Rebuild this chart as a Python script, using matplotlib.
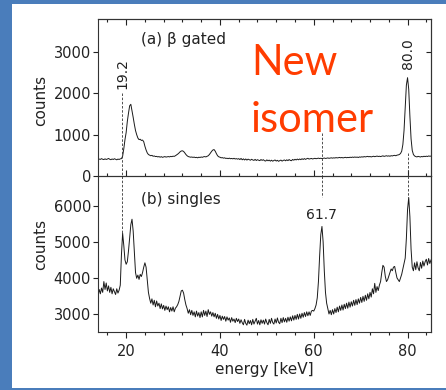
import numpy as np
import matplotlib
matplotlib.use("Agg")
import matplotlib.pyplot as plt
from matplotlib.patches import Rectangle
from matplotlib.ticker import MultipleLocator, FixedLocator

# ---- spectra (counts per 0.25 keV channel, 14 .. 85 keV) ----
energy = np.arange(14.0, 85.001, 0.25)

beta_gated = [
    395, 410, 402, 420, 405, 398, 415, 400, 410, 425, 405, 395, 412, 400, 418, 405, 392, 410, 400, 415,
    420, 480, 660, 880, 1050, 1320, 1520, 1700, 1735, 1580, 1420, 1250, 1100, 1000, 920, 880, 890, 860, 870, 830,
    720, 630, 560, 520, 505, 490, 500, 478, 485, 470, 475, 462, 470, 455, 468, 452, 462, 470, 458, 465,
    470, 462, 475, 468, 480, 475, 490, 510, 530, 555, 585, 605, 610, 595, 560, 520, 490, 470, 462, 455,
    460, 450, 458, 445, 452, 440, 455, 448, 460, 452, 465, 470, 462, 475, 490, 520, 560, 600, 630, 640,
    600, 540, 490, 465, 455, 440, 445, 432, 440, 425, 430, 420, 432, 418, 425, 415, 428, 412, 420, 408,
    420, 398, 425, 392, 415, 388, 412, 385, 408, 395, 382, 405, 388, 378, 402, 375, 395, 382, 372, 398,
    378, 395, 370, 362, 390, 368, 385, 360, 382, 358, 375, 388, 362, 380, 355, 372, 385, 360, 378, 388,
    368, 392, 372, 398, 378, 370, 400, 382, 405, 388, 410, 392, 412, 395, 418, 400, 422, 402, 418, 428,
    410, 418, 425, 412, 420, 428, 418, 425, 432, 422, 430, 420, 428, 435, 425, 430, 438, 428, 435, 440,
    432, 440, 435, 445, 438, 442, 450, 440, 448, 438, 445, 452, 442, 450, 445, 455, 448, 458, 450, 460,
    452, 458, 448, 462, 455, 465, 458, 470, 462, 468, 475, 465, 472, 462, 470, 478, 468, 475, 482, 472,
    478, 470, 480, 488, 475, 482, 490, 480, 488, 478, 492, 485, 495, 500, 490, 505, 510, 520, 545, 600,
    760, 1100, 1650, 2200, 2380, 2100, 1450, 900, 620, 520, 485, 470, 462, 475, 468, 460, 472, 465, 478, 470,
    480, 472, 485, 478, 482,
]

singles = [
    3520, 3680, 3560, 3720, 3600, 3900, 3680, 3860, 3640, 3780, 3600, 3740, 3560, 3700, 3620, 3540, 3700, 3580, 3660, 3800,
    4650, 5240, 4900, 4500, 4380, 4450, 4750, 5100, 5480, 5630, 5300, 4700, 4150, 3990, 4080, 3960, 4100, 4040, 4150, 4300,
    4420, 4300, 3950, 3600, 3430, 3300, 3420, 3250, 3380, 3200, 3360, 3220, 3300, 3150, 3280, 3140, 3240, 3100, 3220, 3120,
    3200, 3060, 3180, 3080, 3200, 3060, 3160, 3200, 3260, 3350, 3500, 3640, 3660, 3580, 3400, 3250, 3150, 3020, 3120, 2980,
    3100, 2960, 3060, 2920, 3080, 2940, 3040, 2900, 3060, 2920, 3100, 2960, 3080, 2930, 3120, 2990, 3060, 2940, 3040, 2920,
    3020, 2880, 2990, 2860, 2960, 2820, 2940, 2850, 2930, 2800, 2920, 2830, 2890, 2770, 2900, 2800, 2860, 2760, 2880, 2790,
    2860, 2740, 2840, 2760, 2700, 2850, 2740, 2690, 2830, 2730, 2820, 2700, 2850, 2720, 2800, 2880, 2720, 2820, 2700, 2840,
    2740, 2830, 2720, 2860, 2760, 2700, 2850, 2740, 2880, 2760, 2720, 2860, 2750, 2890, 2770, 2730, 2880, 2760, 2900, 2780,
    2880, 2770, 2910, 2800, 2920, 2810, 2950, 2830, 2960, 2850, 2990, 2860, 3000, 2880, 3020, 2910, 3040, 2930, 3060, 2950,
    3060, 2960, 3080, 3100, 3080, 3150, 3250, 3450, 3900, 4600, 5200, 5430, 5000, 4200, 3600, 3300, 3150, 3000, 3100, 2980,
    3120, 3000, 3150, 3040, 3190, 3060, 3220, 3100, 3250, 3110, 3270, 3150, 3300, 3160, 3330, 3190, 3340, 3220, 3380, 3240,
    3400, 3260, 3420, 3300, 3460, 3320, 3490, 3350, 3520, 3380, 3560, 3420, 3600, 3470, 3700, 3560, 3850, 3600, 3760, 3650,
    3800, 3900, 4150, 4350, 4300, 4050, 3900, 3950, 4050, 4150, 4250, 4200, 4300, 4320, 4150, 4000, 3950, 3900, 4000, 4100,
    4250, 4400, 4550, 5100, 5900, 6230, 5700, 4800, 4300, 4200, 4420, 4230, 4450, 4280, 4200, 4430, 4270, 4470, 4330, 4450,
    4520, 4360, 4540, 4400, 4500,
]

# peak markers: energy, dashed span in (a), dashed span in (b)
peak_energies = [19.2, 61.7, 80.0]
peak_labels = ["19.2", "61.7", "80.0"]
dash_a = [(2000, 0), (1050, 0), (550, 0)]
dash_b = [(6830, 5250), (6830, 6250), (6830, 6230)]

yticks_a = [0, 1000, 2000, 3000]
yticks_b = [3000, 4000, 5000, 6000]

FONT = ["DejaVu Sans"]
INK = "#222222"
plt.rcParams["font.family"] = FONT
plt.rcParams["text.color"] = INK
plt.rcParams["axes.labelcolor"] = INK
plt.rcParams["xtick.color"] = INK
plt.rcParams["ytick.color"] = INK

W, H = 446, 390
fig = plt.figure(figsize=(W / 100, H / 100), dpi=100, facecolor="#4a7dbb")
fig.patches.append(Rectangle((12 / W, 2 / H), 1 - 12 / W, 384 / H,
                             transform=fig.transFigure, facecolor="white",
                             edgecolor="none", zorder=-10))

left, right = 98 / W, 431 / W
ax_a = fig.add_axes([left, 1 - 176 / H, right - left, 157 / H])
ax_b = fig.add_axes([left, 1 - 332 / H, right - left, 156 / H], sharex=ax_a)

for ax in (ax_a, ax_b):
    for s in ax.spines.values():
        s.set_linewidth(0.8)
        s.set_color("#333333")
    ax.set_facecolor("none")

ax_a.plot(energy, beta_gated, color="#1a1a1a", lw=0.7)
ax_b.plot(energy, singles, color="#1a1a1a", lw=0.7)

ax_a.set_xlim(14, 85)
ax_a.set_ylim(0, 3800)
ax_b.set_ylim(2500, 6830)

dash_kw = dict(color="#333333", lw=0.6, ls=(0, (3, 2)))
for e, (ya0, ya1), (yb0, yb1) in zip(peak_energies, dash_a, dash_b):
    ax_a.plot([e, e], [ya0, ya1], **dash_kw)
    ax_b.plot([e, e], [yb0, yb1], **dash_kw)

# peak labels
ax_a.text(peak_energies[0], 2100, peak_labels[0], rotation=90, ha="center",
          va="bottom", fontsize=10)
ax_a.text(peak_energies[2], 2600, peak_labels[2], rotation=90, ha="center",
          va="bottom", fontsize=10)
ax_b.text(peak_energies[1], 5750, peak_labels[1], ha="center", va="center",
          fontsize=10)

ax_a.text(23.2, 3300, "(a) β gated", ha="left", va="center", fontsize=11)
ax_b.text(23.2, 6180, "(b) singles", ha="left", va="center", fontsize=11)

ax_a.text(46.6, 2434, "New", color="#ff3c00", fontsize=30, family=["Lato", "DejaVu Sans"],
          ha="left", va="baseline")
ax_a.text(46.6, 1060, "isomer", color="#ff3c00", fontsize=30, family=["Lato", "DejaVu Sans"],
          ha="left", va="baseline")

# ticks
for ax, yt in ((ax_a, yticks_a), (ax_b, yticks_b)):
    ax.yaxis.set_major_locator(FixedLocator(yt))
    ax.tick_params(axis="y", which="major", direction="out", length=3.5, width=0.8,
                   pad=1.5, labelsize=10.5)
    sec = ax.secondary_yaxis("right")
    sec.yaxis.set_major_locator(FixedLocator(yt))
    sec.tick_params(direction="in", length=3.5, width=0.8, labelright=False)
    sec.spines["right"].set_linewidth(0.8)
    sec.spines["right"].set_color("#333333")

ax_a.xaxis.set_major_locator(MultipleLocator(20))
ax_a.xaxis.set_minor_locator(MultipleLocator(4))
ax_a.tick_params(axis="x", which="both", direction="in", labelbottom=False, width=0.8)
ax_a.tick_params(axis="x", which="major", length=4)
ax_a.tick_params(axis="x", which="minor", length=2.5)
top = ax_a.secondary_xaxis("top")
top.xaxis.set_major_locator(MultipleLocator(20))
top.xaxis.set_minor_locator(MultipleLocator(4))
top.tick_params(which="both", direction="in", labeltop=False, width=0.8)
top.tick_params(which="major", length=4)
top.tick_params(which="minor", length=2.5)
top.spines["top"].set_linewidth(0.8)
top.spines["top"].set_color("#333333")

ax_b.tick_params(axis="x", which="both", direction="out", width=0.8, labelsize=10.5, pad=5)
ax_b.tick_params(axis="x", which="major", length=4)
ax_b.tick_params(axis="x", which="minor", length=2.5)

ax_a.set_ylabel("counts", fontsize=11)
ax_b.set_ylabel("counts", fontsize=11)
ax_a.yaxis.set_label_coords(-0.149, 0.484)
ax_b.yaxis.set_label_coords(-0.149, 0.56)
ax_b.set_xlabel("energy [keV]", fontsize=11, labelpad=2)

fig.savefig("out.png", dpi=100, facecolor=fig.get_facecolor())
